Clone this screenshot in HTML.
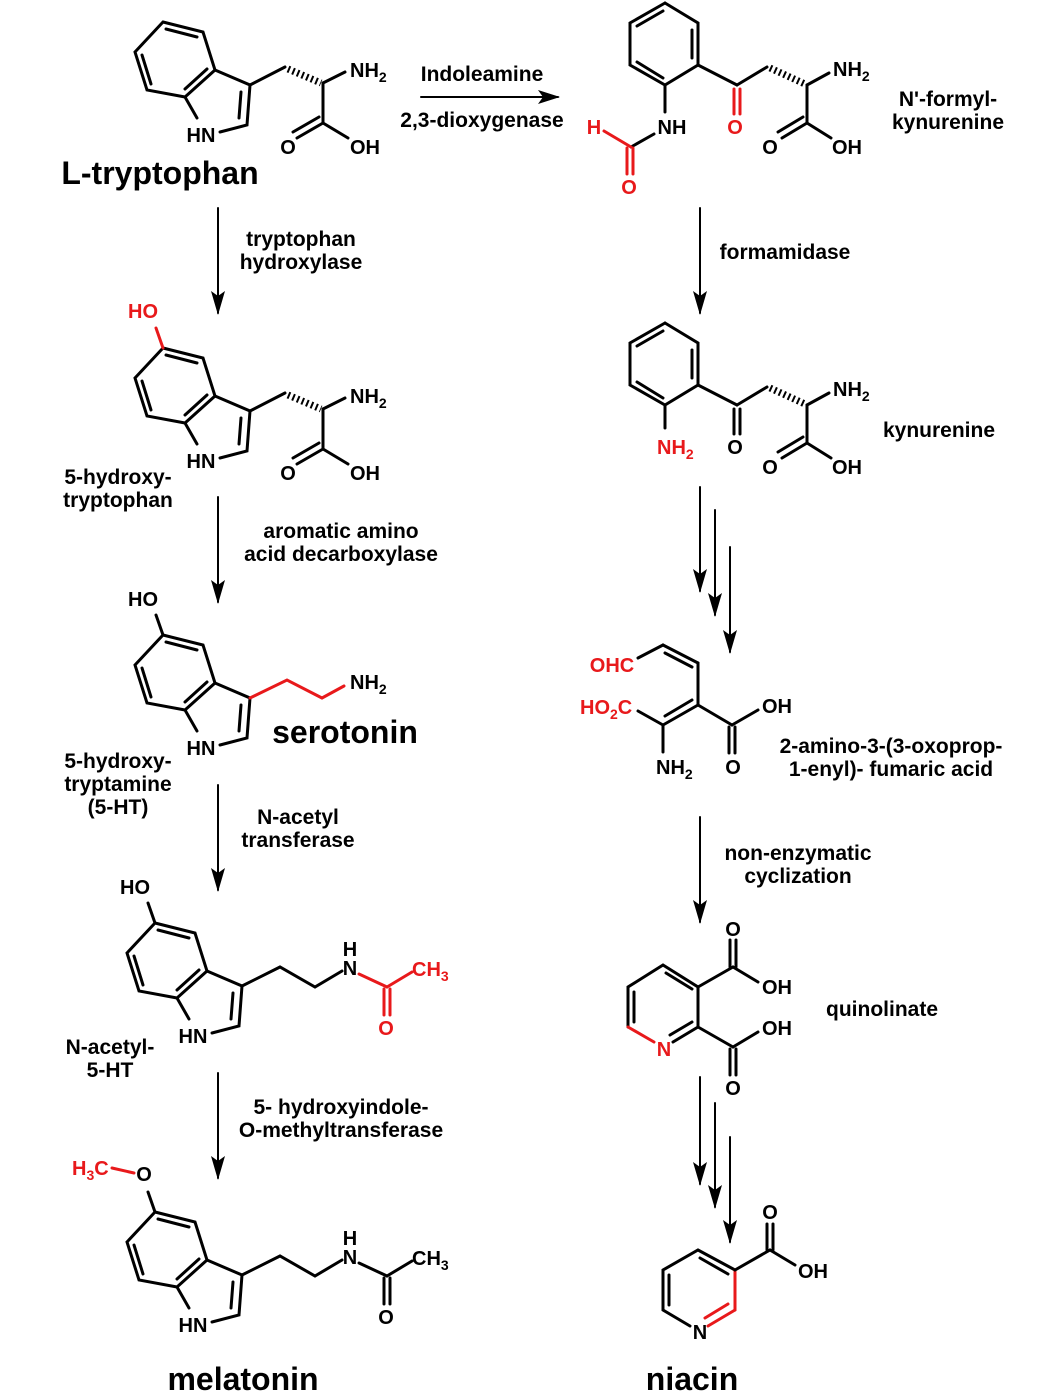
<!DOCTYPE html>
<html><head><meta charset="utf-8"><style>
html,body{margin:0;padding:0;background:#fff}
svg{display:block}
text{font-family:"Liberation Sans",Arial,sans-serif;font-weight:bold;fill:#000}
.r{fill:#e8191b}
.at{font-size:20px}
.lb{font-size:21px}
.big{font-size:32px}
line,polyline,path{stroke:#000;stroke-width:3;fill:none;stroke-linecap:round}
.rs{stroke:#e8191b}
.hash{stroke-width:7;stroke-dasharray:2 3;stroke-linecap:butt}
</style></head><body>
<svg width="1049" height="1399" viewBox="0 0 1049 1399" xmlns="http://www.w3.org/2000/svg">
<defs>
<g id="indole">
  <polyline points="163,22 203,32 215,70 185,97 147,90 135,52 163,22"/>
  <line x1="166" y1="29" x2="197" y2="37"/>
  <line x1="142" y1="55" x2="151" y2="84"/>
  <line x1="207" y1="69" x2="185" y2="89"/>
  <polyline points="215,70 250,85 247,125 220,132"/>
  <line x1="185" y1="97" x2="197" y2="118"/>
  <line x1="241" y1="92" x2="239" y2="118"/>
  <text class="at" x="201" y="142" text-anchor="middle">HN</text>
</g>
<g id="aa">
  <line x1="250" y1="85" x2="285" y2="67"/>
  <line class="hash" x1="288" y1="69" x2="321" y2="83"/>
  <line x1="323" y1="83" x2="345" y2="72"/>
  <text class="at" x="350" y="77">NH<tspan font-size="14" dy="5">2</tspan></text>
  <line x1="323" y1="83" x2="323" y2="123"/>
  <line x1="323" y1="123" x2="297" y2="138"/>
  <line x1="319" y1="117" x2="293" y2="132"/>
  <line x1="323" y1="123" x2="348" y2="138"/>
  <text class="at" x="288" y="154" text-anchor="middle">O</text>
  <text class="at" x="365" y="154" text-anchor="middle">OH</text>
</g>
<g id="kyn">
  <polyline points="665,3 698,23 698,65 665,85 630,65 630,23 665,3"/>
  <line x1="692" y1="30" x2="692" y2="58"/>
  <line x1="663" y1="78" x2="637" y2="62"/>
  <line x1="637" y1="26" x2="663" y2="11"/>
  <line x1="698" y1="65" x2="737" y2="85"/>
  <line x1="737" y1="85" x2="767" y2="67"/>
  <line class="hash" x1="770" y1="68" x2="805" y2="84"/>
  <line x1="807" y1="85" x2="829" y2="73"/>
  <text class="at" x="833" y="76">NH<tspan font-size="14" dy="5">2</tspan></text>
  <line x1="807" y1="85" x2="807" y2="123"/>
  <line x1="807" y1="123" x2="782" y2="138"/>
  <line x1="803" y1="117" x2="778" y2="132"/>
  <line x1="807" y1="123" x2="831" y2="138"/>
  <text class="at" x="770" y="154" text-anchor="middle">O</text>
  <text class="at" x="847" y="154" text-anchor="middle">OH</text>
</g>
<marker id="ah" markerWidth="22" markerHeight="14" refX="20" refY="7" orient="auto" markerUnits="userSpaceOnUse"><path d="M0,0 L22,7 L0,14 L5,7 Z" style="fill:#000;stroke:none"/></marker>
<marker id="av" markerWidth="24" markerHeight="14" refX="22" refY="7" orient="auto" markerUnits="userSpaceOnUse"><path d="M0,0 L24,7 L0,14 L5,7 Z" style="fill:#000;stroke:none"/></marker>
</defs>

<!-- L-tryptophan -->
<use href="#indole"/><use href="#aa"/>
<text class="big" x="160" y="184" text-anchor="middle">L-tryptophan</text>

<line x1="421" y1="97" x2="558" y2="97" style="stroke-width:2" marker-end="url(#ah)"/>
<text class="lb" x="482" y="81" text-anchor="middle">Indoleamine</text>
<text class="lb" x="482" y="127" text-anchor="middle">2,3-dioxygenase</text>

<!-- N'-formylkynurenine -->
<use href="#kyn"/>
<line class="rs" x1="734" y1="89" x2="734" y2="114"/>
<line class="rs" x1="740" y1="89" x2="740" y2="114"/>
<text class="at r" x="735" y="134" text-anchor="middle">O</text>
<line x1="665" y1="85" x2="665" y2="112"/>
<text class="at" x="672" y="134" text-anchor="middle">NH</text>
<line x1="654" y1="134" x2="631" y2="147"/>
<line class="rs" x1="631" y1="147" x2="604" y2="131"/>
<text class="at r" x="594" y="134" text-anchor="middle">H</text>
<line class="rs" x1="627" y1="148" x2="627" y2="174"/>
<line class="rs" x1="633" y1="148" x2="633" y2="174"/>
<text class="at r" x="629" y="194" text-anchor="middle">O</text>
<text class="lb" x="948" y="106" text-anchor="middle">N'-formyl-</text>
<text class="lb" x="948" y="129" text-anchor="middle">kynurenine</text>

<line x1="218" y1="208" x2="218" y2="313" style="stroke-width:2" marker-end="url(#av)"/>
<text class="lb" x="301" y="246" text-anchor="middle">tryptophan</text>
<text class="lb" x="301" y="269" text-anchor="middle">hydroxylase</text>

<!-- 5-HTP -->
<g transform="translate(0,326)"><use href="#indole"/><use href="#aa"/>
<line class="rs" x1="163" y1="22" x2="156" y2="2"/></g>
<text class="at r" x="143" y="318" text-anchor="middle">HO</text>
<text class="lb" x="118" y="484" text-anchor="middle">5-hydroxy-</text>
<text class="lb" x="118" y="507" text-anchor="middle">tryptophan</text>

<line x1="218" y1="497" x2="218" y2="602" style="stroke-width:2" marker-end="url(#av)"/>
<text class="lb" x="341" y="538" text-anchor="middle">aromatic amino</text>
<text class="lb" x="341" y="561" text-anchor="middle">acid decarboxylase</text>

<!-- serotonin -->
<g transform="translate(0,613)"><use href="#indole"/>
<line x1="163" y1="22" x2="156" y2="2"/>
<polyline class="rs" points="250,85 287,67 322,85 344,73"/></g>
<text class="at" x="143" y="606" text-anchor="middle">HO</text>
<text class="at" x="350" y="689">NH<tspan font-size="14" dy="5">2</tspan></text>
<text class="big" x="345" y="743" text-anchor="middle">serotonin</text>
<text class="lb" x="118" y="768" text-anchor="middle">5-hydroxy-</text>
<text class="lb" x="118" y="791" text-anchor="middle">tryptamine</text>
<text class="lb" x="118" y="814" text-anchor="middle">(5-HT)</text>

<line x1="218" y1="785" x2="218" y2="890" style="stroke-width:2" marker-end="url(#av)"/>
<text class="lb" x="298" y="824" text-anchor="middle">N-acetyl</text>
<text class="lb" x="298" y="847" text-anchor="middle">transferase</text>

<!-- N-acetyl-5-HT -->
<g transform="translate(-8,901)"><use href="#indole"/>
<line x1="163" y1="22" x2="156" y2="2"/>
<polyline points="250,85 288,66 323,86 350,70"/>
<line class="rs" x1="367" y1="73" x2="395" y2="86"/>
<line class="rs" x1="395" y1="86" x2="420" y2="71"/>
<line class="rs" x1="392" y1="88" x2="392" y2="114"/>
<line class="rs" x1="398" y1="88" x2="398" y2="114"/></g>
<text class="at" x="135" y="894" text-anchor="middle">HO</text>
<text class="at" x="350" y="956" text-anchor="middle">H</text>
<text class="at" x="350" y="975" text-anchor="middle">N</text>
<text class="at r" x="412" y="976">CH<tspan font-size="14" dy="5">3</tspan></text>
<text class="at r" x="386" y="1035" text-anchor="middle">O</text>
<text class="lb" x="110" y="1054" text-anchor="middle">N-acetyl-</text>
<text class="lb" x="110" y="1077" text-anchor="middle">5-HT</text>

<line x1="218" y1="1073" x2="218" y2="1178" style="stroke-width:2" marker-end="url(#av)"/>
<text class="lb" x="341" y="1114" text-anchor="middle">5- hydroxyindole-</text>
<text class="lb" x="341" y="1137" text-anchor="middle">O-methyltransferase</text>

<!-- melatonin -->
<g transform="translate(-8,1190)"><use href="#indole"/>
<line x1="163" y1="22" x2="156" y2="2"/>
<polyline points="250,85 288,66 323,86 350,70"/>
<line x1="367" y1="73" x2="395" y2="86"/>
<line x1="395" y1="86" x2="420" y2="71"/>
<line x1="392" y1="88" x2="392" y2="114"/>
<line x1="398" y1="88" x2="398" y2="114"/></g>
<line class="rs" x1="112" y1="1168" x2="134" y2="1173"/>
<text class="at" x="144" y="1181" text-anchor="middle">O</text>
<text class="at r" x="72" y="1175">H<tspan font-size="14" dy="5">3</tspan><tspan dy="-5">C</tspan></text>
<text class="at" x="350" y="1245" text-anchor="middle">H</text>
<text class="at" x="350" y="1264" text-anchor="middle">N</text>
<text class="at" x="412" y="1265">CH<tspan font-size="14" dy="5">3</tspan></text>
<text class="at" x="386" y="1324" text-anchor="middle">O</text>
<text class="big" x="243" y="1390" text-anchor="middle">melatonin</text>

<!-- right column -->
<line x1="700" y1="208" x2="700" y2="313" style="stroke-width:2" marker-end="url(#av)"/>
<text class="lb" x="785" y="259" text-anchor="middle">formamidase</text>

<!-- kynurenine -->
<g transform="translate(0,320)"><use href="#kyn"/>
<line x1="734" y1="89" x2="734" y2="114"/>
<line x1="740" y1="89" x2="740" y2="114"/>
<line x1="665" y1="85" x2="665" y2="108"/></g>
<text class="at" x="735" y="454" text-anchor="middle">O</text>
<text class="at r" x="657" y="454">NH<tspan font-size="14" dy="5">2</tspan></text>
<text class="lb" x="939" y="437" text-anchor="middle">kynurenine</text>

<line x1="700" y1="487" x2="700" y2="591" style="stroke-width:2" marker-end="url(#av)"/>
<line x1="715" y1="510" x2="715" y2="615" style="stroke-width:2" marker-end="url(#av)"/>
<line x1="730" y1="547" x2="730" y2="652" style="stroke-width:2" marker-end="url(#av)"/>

<!-- fumaric -->
<text class="at r" x="612" y="672" text-anchor="middle">OHC</text>
<line x1="638" y1="658" x2="663" y2="645"/>
<line x1="663" y1="645" x2="698" y2="663"/>
<line x1="665" y1="653" x2="692" y2="667"/>
<line x1="698" y1="663" x2="698" y2="705"/>
<line x1="698" y1="705" x2="663" y2="725"/>
<line x1="692" y1="700" x2="665" y2="716"/>
<line x1="663" y1="725" x2="638" y2="711"/>
<text class="at r" x="580" y="714">HO<tspan font-size="14" dy="5">2</tspan><tspan dy="-5">C</tspan></text>
<line x1="663" y1="725" x2="663" y2="752"/>
<text class="at" x="656" y="774">NH<tspan font-size="14" dy="5">2</tspan></text>
<line x1="698" y1="705" x2="732" y2="725"/>
<line x1="732" y1="725" x2="758" y2="710"/>
<text class="at" x="777" y="713" text-anchor="middle">OH</text>
<line x1="729" y1="727" x2="729" y2="753"/>
<line x1="735" y1="727" x2="735" y2="753"/>
<text class="at" x="733" y="774" text-anchor="middle">O</text>
<text class="lb" x="891" y="753" text-anchor="middle">2-amino-3-(3-oxoprop-</text>
<text class="lb" x="891" y="776" text-anchor="middle">1-enyl)- fumaric acid</text>

<line x1="700" y1="817" x2="700" y2="922" style="stroke-width:2" marker-end="url(#av)"/>
<text class="lb" x="798" y="860" text-anchor="middle">non-enzymatic</text>
<text class="lb" x="798" y="883" text-anchor="middle">cyclization</text>

<!-- quinolinate -->
<polyline points="628,1027 628,987 663,965 698,987 698,1027"/>
<line x1="634" y1="992" x2="634" y2="1022"/>
<line x1="666" y1="973" x2="692" y2="989"/>
<line class="rs" x1="628" y1="1027" x2="654" y2="1042"/>
<line x1="698" y1="1027" x2="673" y2="1042"/>
<line x1="692" y1="1022" x2="670" y2="1035"/>
<text class="at r" x="664" y="1056" text-anchor="middle">N</text>
<line x1="698" y1="987" x2="733" y2="967"/>
<line x1="730" y1="967" x2="730" y2="940"/>
<line x1="736" y1="967" x2="736" y2="940"/>
<text class="at" x="733" y="936" text-anchor="middle">O</text>
<line x1="733" y1="967" x2="758" y2="982"/>
<text class="at" x="777" y="994" text-anchor="middle">OH</text>
<line x1="698" y1="1027" x2="733" y2="1047"/>
<line x1="733" y1="1047" x2="758" y2="1032"/>
<text class="at" x="777" y="1035" text-anchor="middle">OH</text>
<line x1="730" y1="1049" x2="730" y2="1075"/>
<line x1="736" y1="1049" x2="736" y2="1075"/>
<text class="at" x="733" y="1095" text-anchor="middle">O</text>
<text class="lb" x="882" y="1016" text-anchor="middle">quinolinate</text>

<line x1="700" y1="1077" x2="700" y2="1184" style="stroke-width:2" marker-end="url(#av)"/>
<line x1="715" y1="1103" x2="715" y2="1207" style="stroke-width:2" marker-end="url(#av)"/>
<line x1="730" y1="1137" x2="730" y2="1242" style="stroke-width:2" marker-end="url(#av)"/>

<!-- niacin -->
<polyline points="690,1326 663,1310 663,1270 698,1250 735,1270"/>
<line x1="669" y1="1275" x2="669" y2="1305"/>
<line x1="700" y1="1258" x2="728" y2="1274"/>
<line class="rs" x1="735" y1="1270" x2="735" y2="1310"/>
<line class="rs" x1="735" y1="1310" x2="708" y2="1326"/>
<line class="rs" x1="728" y1="1304" x2="705" y2="1318"/>
<text class="at" x="700" y="1339" text-anchor="middle">N</text>
<line x1="735" y1="1270" x2="770" y2="1250"/>
<line x1="767" y1="1250" x2="767" y2="1224"/>
<line x1="773" y1="1250" x2="773" y2="1224"/>
<text class="at" x="770" y="1219" text-anchor="middle">O</text>
<line x1="770" y1="1250" x2="795" y2="1265"/>
<text class="at" x="813" y="1278" text-anchor="middle">OH</text>
<text class="big" x="692" y="1390" text-anchor="middle">niacin</text>
</svg>
</body></html>
